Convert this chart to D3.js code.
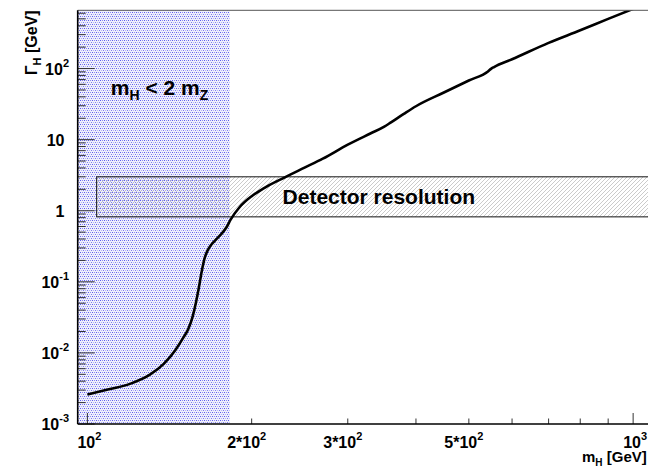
<!DOCTYPE html>
<html>
<head>
<meta charset="utf-8">
<script src="https://cdn.jsdelivr.net/npm/d3@7/dist/d3.min.js"></script>
<style>
  html, body { margin: 0; padding: 0; background: #fff; }
  svg { display: block; }
  text { font-family: "Liberation Sans", Arial, sans-serif; font-weight: bold; fill: #000; }
</style>
</head>
<body>
<svg id="chart" width="648" height="466"></svg>
<script>
// ---------------- data ----------------
const massGeV  = [100, 110, 120, 130, 138, 145, 150, 153, 156, 158, 160, 162, 164, 166, 168, 171, 175, 180, 183, 190, 200, 210, 230, 250, 270, 300, 330, 350, 360, 380, 400, 450, 500, 542, 549, 556, 600, 700, 800, 900, 1000];
const widthGeV = [0.0026, 0.0031, 0.0037, 0.0049, 0.0070, 0.0110, 0.0165, 0.0215, 0.033, 0.050, 0.082, 0.140, 0.215, 0.275, 0.32, 0.375, 0.45, 0.59, 0.75, 1.12, 1.60, 2.05, 2.95, 4.04, 5.4, 8.5, 12.2, 15.2, 17.5, 23.0, 29.5, 46, 68, 91, 99, 105, 135, 230, 345, 500, 690];

const xLabelValues = [100, 200, 300, 500, 1000];
const xLabelTexts  = ["10^2", "2*10^2", "3*10^2", "5*10^2", "10^3"];
const yLabelValues = [0.001, 0.01, 0.1, 1, 10, 100];
const yLabelTexts  = ["10^-3", "10^-2", "10^-1", "1", "10", "10^2"];

const massZ = 91.19;                     // GeV
const resolutionMass  = [104, 1200];     // detector resolution band (mass range)
const resolutionWidth = [0.82, 3.0];     // detector resolution band (width range)

// ---------------- layout ----------------
const svg = d3.select("#chart");
const plot = { left: 77.7, right: 660, top: 10.3, bottom: 424 };

const x = d3.scaleLog().domain([96, 1120]).range([plot.left, plot.right]);
const y = d3.scaleLog().domain([0.001, 660]).range([plot.bottom, plot.top]);

const defs = svg.append("defs");
defs.append("clipPath").attr("id", "clip")
  .append("rect").attr("x", plot.left).attr("y", plot.top)
  .attr("width", plot.right - plot.left).attr("height", plot.bottom - plot.top);

// blue dotted fill
const pb = defs.append("pattern").attr("id", "bluedots")
  .attr("patternUnits", "userSpaceOnUse").attr("width", 4).attr("height", 4);
pb.append("rect").attr("width", 4).attr("height", 4).attr("fill", "#efeffb");
[[0,0,"#5a5af0"],[2,0,"#8a8af2"],[1,2,"#b4b4f6"],[3,2,"#7c7cf0"]].forEach(([px,py,c]) => {
  pb.append("rect").attr("x", px).attr("y", py).attr("width", 1).attr("height", 1).attr("fill", c);
});

// grey hatch
const ph = defs.append("pattern").attr("id", "hatch")
  .attr("patternUnits", "userSpaceOnUse").attr("width", 4).attr("height", 4);
ph.append("path").attr("d", "M-1,1 L1,-1 M0,4 L4,0 M3,5 L5,3")
  .attr("stroke", "#b4b4b4").attr("stroke-width", 0.7);

const g = svg.append("g").attr("clip-path", "url(#clip)");

// region m_H < 2 m_Z
g.append("rect")
  .attr("x", plot.left).attr("y", plot.top)
  .attr("width", x(2 * massZ) - plot.left)
  .attr("height", plot.bottom - plot.top)
  .attr("fill", "url(#bluedots)");

// detector resolution band
g.append("rect")
  .attr("x", x(resolutionMass[0])).attr("y", y(resolutionWidth[1]))
  .attr("width", x(resolutionMass[1]) - x(resolutionMass[0]))
  .attr("height", y(resolutionWidth[0]) - y(resolutionWidth[1]))
  .attr("fill", "url(#hatch)")
  .attr("stroke", "#111").attr("stroke-width", 1);

// width curve
const pts = massGeV.map((m, i) => [m, widthGeV[i]]);
g.append("path").datum(pts)
  .attr("fill", "none").attr("stroke", "#000").attr("stroke-width", 2.6)
  .attr("stroke-linejoin", "round")
  .attr("d", d3.line().x(d => x(d[0])).y(d => y(d[1])).curve(d3.curveMonotoneX));

// texts inside
const boxMidY = (y(resolutionWidth[0]) + y(resolutionWidth[1])) / 2;
svg.append("text").attr("x", x(342)).attr("y", boxMidY + 7.5)
  .attr("text-anchor", "middle").attr("font-size", 21).text("Detector resolution");

const tz = svg.append("text").attr("x", x(110.4)).attr("y", 95).attr("font-size", 21);
tz.append("tspan").text("m");
tz.append("tspan").attr("font-size", 14).attr("dy", 5).text("H");
tz.append("tspan").attr("dy", -5).text(" < 2 m");
tz.append("tspan").attr("font-size", 14).attr("dy", 5).text("Z");

// ---------------- axes ----------------
// frame top (grey)
svg.append("line").attr("x1", plot.left).attr("x2", plot.right)
  .attr("y1", plot.top).attr("y2", plot.top).attr("stroke", "#555").attr("stroke-width", 1);

// y ticks
const yTicks = [];
for (let e = -3; e <= 2; e++) for (let k = 1; k <= 9; k++) {
  const v = k * Math.pow(10, e);
  if (v >= y.domain()[0] && v <= y.domain()[1]) yTicks.push({ v, major: k === 1 });
}
svg.append("g").selectAll("line").data(yTicks).join("line")
  .attr("x1", plot.left).attr("x2", d => plot.left + (d.major ? 17 : 8))
  .attr("y1", d => y(d.v)).attr("y2", d => y(d.v))
  .attr("stroke", "#333").attr("stroke-width", 1);

// x ticks
const xTicks = [];
for (let e = 2; e <= 3; e++) for (let k = 1; k <= 9; k++) {
  const v = k * Math.pow(10, e);
  if (v >= x.domain()[0] && v <= x.domain()[1]) xTicks.push({ v, major: k === 1 });
}
svg.append("g").selectAll("line").data(xTicks).join("line")
  .attr("x1", d => x(d.v)).attr("x2", d => x(d.v))
  .attr("y1", plot.bottom).attr("y2", d => plot.bottom - (d.major ? 11 : 5.5))
  .attr("stroke", "#333").attr("stroke-width", 1);

// axis lines
svg.append("line").attr("x1", plot.left).attr("x2", plot.left)
  .attr("y1", plot.top).attr("y2", plot.bottom).attr("stroke", "#000").attr("stroke-width", 1.6);
svg.append("line").attr("x1", plot.left).attr("x2", plot.right)
  .attr("y1", plot.bottom).attr("y2", plot.bottom).attr("stroke", "#000").attr("stroke-width", 1.6);

function labelParts(s) { const p = s.split("^"); return { base: p[0], sup: p[1] }; }

// x labels
xLabelValues.forEach((v, i) => {
  const { base, sup } = labelParts(xLabelTexts[i]);
  const shift = base.includes("*") ? -5 : 2;
  const t = svg.append("text").attr("x", x(v) + shift).attr("y", 448)
    .attr("text-anchor", "middle").attr("font-size", 16);
  t.append("tspan").text(base);
  if (sup) t.append("tspan").attr("font-size", 11).attr("dy", -8).text(sup);
});

// y labels
yLabelValues.forEach((v, i) => {
  const { base, sup } = labelParts(yLabelTexts[i]);
  const t = svg.append("text").attr("x", sup ? 69 : 64.5).attr("y", y(v) + 6)
    .attr("text-anchor", "end").attr("font-size", 16);
  t.append("tspan").text(base);
  if (sup) t.append("tspan").attr("font-size", 11).attr("dy", -8).text(sup);
});

// axis titles
const yt = svg.append("text").attr("transform", `translate(37,${plot.top}) rotate(-90)`)
  .attr("text-anchor", "end").attr("font-size", 16);
yt.append("tspan").text("Γ");
yt.append("tspan").attr("font-size", 11).attr("dy", 4).text("H");
yt.append("tspan").attr("dy", -4).text(" [GeV]");

const xt = svg.append("text").attr("x", 582).attr("y", 462).attr("font-size", 15);
xt.append("tspan").text("m");
xt.append("tspan").attr("font-size", 10).attr("dy", 4).text("H");
xt.append("tspan").attr("dy", -4).text(" [GeV]");
</script>
</body>
</html>
